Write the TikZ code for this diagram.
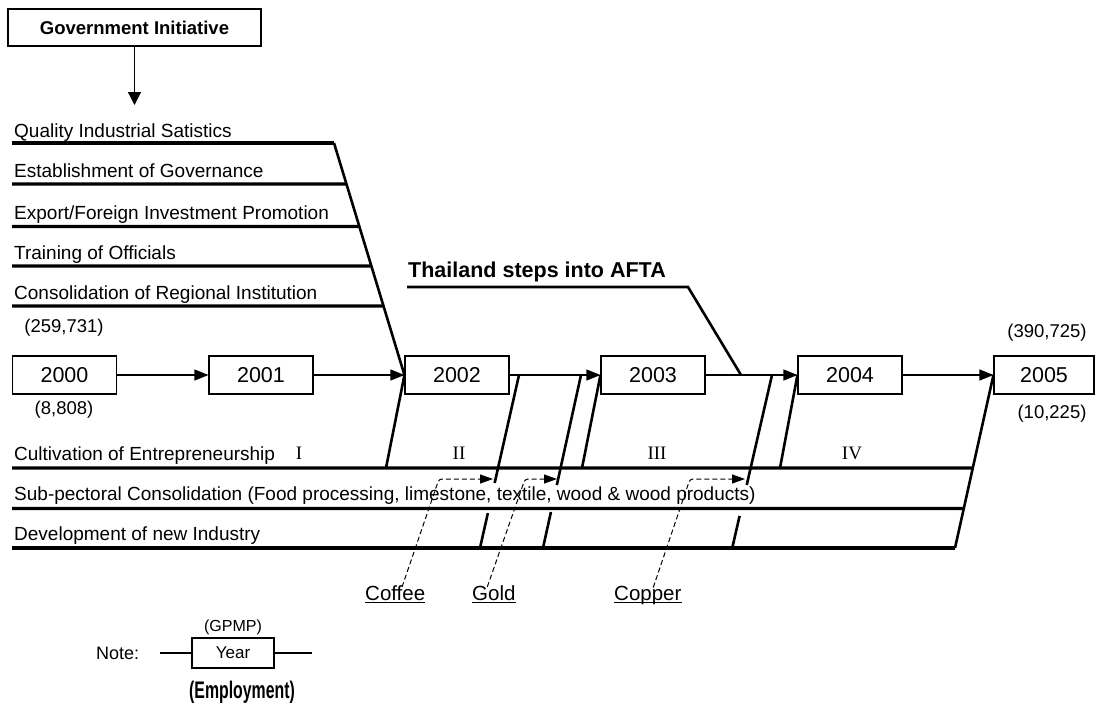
\documentclass[tikz,border=0pt]{standalone}
\usepackage{graphicx}
\usepackage{fontspec}
\setmainfont{Liberation Sans}
\newfontfamily\romanfont{Liberation Serif}
\usetikzlibrary{arrows.meta,calc}
\newcommand\setfs[1]{\fontsize{#1pt}{#1pt}\selectfont}

\begin{document}
\begin{tikzpicture}[x=1pt,y=-1pt,
  lbl/.style={anchor=base west,inner sep=0pt,font=\setfs{19}},
  num/.style={inner sep=0pt,font=\setfs{18.5}},
  yearbox/.style={draw,line width=1.1pt,minimum width=104pt,minimum height=38pt,inner sep=0pt,font=\setfs{21.5}},
  flow/.style={line width=1.2pt,-{Triangle[length=14pt,width=11pt]}},
  band/.style={line width=3.2pt},
  slant/.style={line width=2.6pt},
  phase/.style={anchor=base,inner sep=0pt,font=\romanfont\setfs{19}},
  mineral/.style={anchor=base west,inner sep=0pt,font=\setfs{20.5}},
  uline/.style={line width=1.4pt},
  feed/.style={line width=1pt,dash pattern=on 5pt off 3pt,rounded corners=3pt,-{Triangle[length=13pt,width=9pt]}}
]
\useasboundingbox (0,0) rectangle (1095,704);

% heading box and its arrow
\node[draw,line width=1.1pt,minimum width=253pt,minimum height=37pt,inner sep=0pt,
      font=\bfseries\setfs{18.5}] (gov) at (134.5,27.5) {Government Initiative};
\coordinate (govtip) at (134.5,105);
\draw[line width=1.2pt,-{Triangle[length=13pt,width=13pt]}] (gov.south) -- (govtip);

% year boxes
\node[yearbox] (y2000) at (64.5,375) {2000};
\node[yearbox] (y2001) at (261,375) {2001};
\node[yearbox] (y2002) at (457,375) {2002};
\node[yearbox] (y2003) at (653,375) {2003};
\node[yearbox] (y2004) at (850,375) {2004};
\node[yearbox,minimum width=100pt] (y2005) at (1044,375) {2005};

\draw[flow] (y2000) -- (y2001);
\draw[flow] (y2001) -- (y2002);
\draw[flow] (y2002) -- (y2003);
\draw[flow] (y2003) -- (y2004);
\draw[flow] (y2004) -- (y2005);

% GPMP / employment figures
\node[num] (g2000) at (64,328) {(259,731)};
\node[num] (e2000) at (64,410) {(8,808)};
\node[num] (g2005) at (1047,333) {(390,725)};
\node[num] (e2005) at (1052,414) {(10,225)};

% government programmes feeding into 2002
\node[lbl] (p1) at (14,137) {Quality Industrial Satistics};
\node[lbl] (p2) at (14,177.5) {Establishment of Governance};
\node[lbl] (p3) at (14,219) {Export/Foreign Investment Promotion};
\node[lbl] (p4) at (14,259) {Training of Officials};
\node[lbl] (p5) at (14,299) {Consolidation of Regional Institution};

\coordinate (qk) at (334,143);
\draw[band] (12,143) -- (qk);
\draw[slant] (qk) -- (y2002.west);
\draw[band] (12,184) -- ($(qk)!{41/232}!(y2002.west)$);
\draw[band] (12,226.5) -- ($(qk)!{83.5/232}!(y2002.west)$);
\draw[band] (12,266) -- ($(qk)!{123/232}!(y2002.west)$);
\draw[band] (12,306) -- ($(qk)!{163/232}!(y2002.west)$);

% AFTA
\node[anchor=base west,inner sep=0pt,font=\bfseries\setfs{21.5}] (afta) at (408,277) {Thailand steps into AFTA};
\coordinate (aftal) at (407,287);
\coordinate (aftak) at (688,287);
\coordinate (aftaj) at (741,375);
\draw[slant] (aftal) -- (aftak) -- (aftaj);

% industry programmes
\node[lbl] (c1) at (14,460) {Cultivation of Entrepreneurship};
\node[lbl] (c2) at (14,500.5) {Sub-pectoral Consolidation (Food processing, limestone, textile, wood \& wood products)};
\node[lbl] (c3) at (14,540) {Development of new Industry};

\coordinate (dk) at (955,548);
\draw[band] (12,548) -- (dk);
\draw[slant] (dk) -- (y2005.west);
\draw[band] (12,468) -- ($(dk)!{80/173}!(y2005.west)$);
\draw[band] (12,508.5) -- ($(dk)!{39.5/173}!(y2005.west)$);

% phases
\node[phase] (ph1) at (299,459) {I};
\node[phase] (ph2) at (459,459) {II};
\node[phase] (ph3) at (657,459) {III};
\node[phase] (ph4) at (852,459) {IV};

% slanted links between the programmes and the time line
\coordinate (s1b) at (386,468);
\draw[slant] (s1b) -- (y2002.west);
\coordinate (s2t) at (519,375); \coordinate (s2b) at (480,548);
\draw[slant] (s2t) -- ($(s2t)!0.624!(s2b)$) ($(s2t)!0.798!(s2b)$) -- (s2b);
\coordinate (s3t) at (581,375); \coordinate (s3b) at (543,548);
\draw[slant] (s3t) -- ($(s3t)!0.636!(s3b)$) ($(s3t)!0.792!(s3b)$) -- (s3b);
\coordinate (s4b) at (582,468);
\draw[slant] (y2003.west) -- (s4b);
\coordinate (s5t) at (772,375); \coordinate (s5b) at (732,549);
\draw[slant] (s5t) -- ($(s5t)!0.632!(s5b)$) ($(s5t)!0.81!(s5b)$) -- (s5b);
\coordinate (s6b) at (780,468);
\draw[slant] (y2004.west) -- (s6b);

% minerals
\node[mineral] (coffee) at (365,600) {Coffee};
\node[mineral] (gold) at (472,600) {Gold};
\node[mineral] (copper) at (614,600) {Copper};
\foreach \m in {coffee,gold,copper}
  \draw[uline] ([yshift=-2.5pt]\m.base west) -- ([yshift=-2.5pt]\m.base east);

\coordinate (coffeetip) at (493,479);
\coordinate (goldtip) at (557,479);
\coordinate (coppertip) at (745,479);
\draw[feed] ([xshift=6.8pt,yshift=-2pt]coffee.north) -- (439,479) -- (coffeetip);
\draw[feed] ([xshift=-6.6pt,yshift=-2pt]gold.north) -- (525,479) -- (goldtip);
\draw[feed] ([xshift=5.4pt,yshift=-2pt]copper.north) -- (690,479) -- (coppertip);

% legend
\node[anchor=base west,inner sep=0pt,font=\setfs{18}] (note) at (96,659.5) {Note:};
\node[draw,line width=1.1pt,minimum width=82pt,minimum height=30pt,inner sep=0pt,font=\setfs{17}] (ybox) at (233,653) {Year};
\coordinate (nl) at (160,653);
\coordinate (nr) at (312,653);
\draw[line width=1.1pt] (nl) -- (ybox.west);
\draw[line width=1.1pt] (ybox.east) -- (nr);
\node[inner sep=0pt,font=\setfs{16}] (gpmp) at (233,627) {(GPMP)};
\node[anchor=base,inner sep=0pt,font=\bfseries\setfs{24}] (empl) at (242,698) {\scalebox{0.66}[1]{(Employment)}};
\end{tikzpicture}
\end{document}
